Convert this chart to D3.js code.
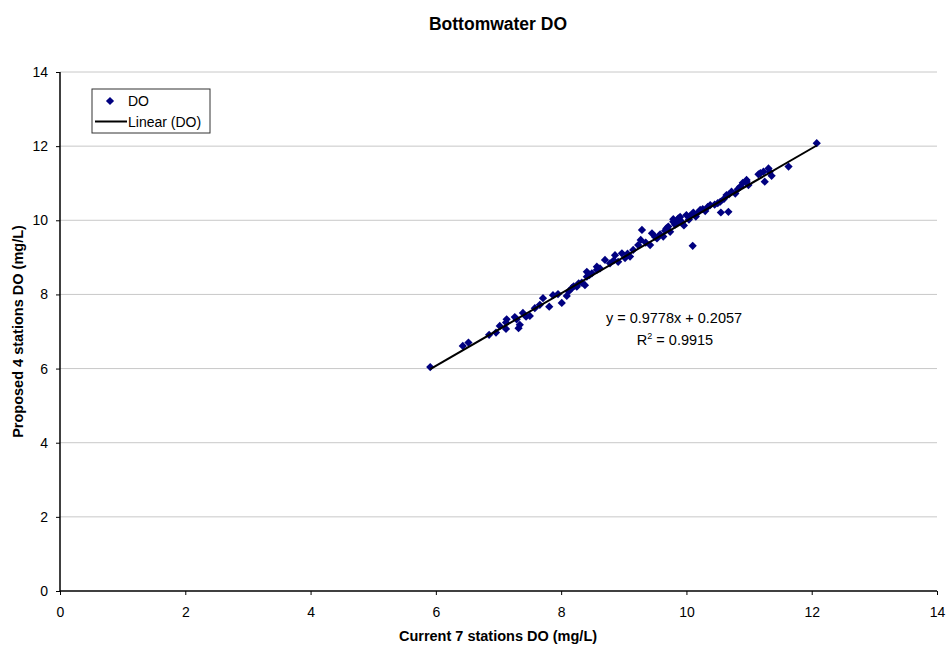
<!DOCTYPE html>
<html lang="en">
<head>
    <meta charset="UTF-8">
    <title>Bottomwater DO</title>
    <script src="https://d3js.org/d3.v7.min.js"></script>
    <style>
        body { margin: 0; background: #fff; }
        text { font-family: "Liberation Sans", Arial, sans-serif; }
    </style>
</head>
<body>
<script>
    // current 7 stations (x) vs proposed 4 stations (y), mg/L
    const currentDO = [
        5.91, 6.43, 6.52, 6.85, 6.96, 7.02, 7.12, 7.12, 7.13, 7.26,
        7.29, 7.32, 7.34, 7.39, 7.44, 7.50, 7.58, 7.66, 7.71, 7.81,
        7.87, 7.95, 8.01, 8.09, 8.12, 8.17, 8.20, 8.25, 8.28, 8.33,
        8.38, 8.41, 8.41, 8.45, 8.49, 8.57, 8.57, 8.62, 8.70, 8.78,
        8.84, 8.86, 8.91, 8.97, 9.02, 9.06, 9.10, 9.15, 9.23, 9.27,
        9.29, 9.35, 9.42, 9.45, 9.50, 9.53, 9.58, 9.63, 9.66, 9.68,
        9.71, 9.74, 9.79, 9.79, 9.82, 9.85, 9.87, 9.90, 9.93, 9.96,
        10.00, 10.04, 10.06, 10.10, 10.11, 10.15, 10.18, 10.22, 10.26, 10.30,
        10.34, 10.38, 10.45, 10.50, 10.54, 10.55, 10.60, 10.64, 10.67, 10.68,
        10.72, 10.78, 10.82, 10.86, 10.90, 10.96, 10.96, 10.99, 11.15, 11.18,
        11.23, 11.25, 11.31, 11.33, 11.36, 11.63, 12.08
    ];
    const proposedDO = [
        6.04, 6.61, 6.70, 6.91, 6.97, 7.15, 7.24, 7.07, 7.33, 7.39,
        7.33, 7.09, 7.18, 7.50, 7.40, 7.42, 7.63, 7.72, 7.90, 7.67,
        7.98, 8.01, 7.77, 7.96, 8.08, 8.17, 8.22, 8.21, 8.30, 8.32,
        8.25, 8.48, 8.61, 8.52, 8.57, 8.66, 8.75, 8.70, 8.93, 8.84,
        8.92, 9.06, 8.88, 9.11, 8.98, 9.10, 9.02, 9.20, 9.33, 9.47,
        9.74, 9.40, 9.33, 9.65, 9.55, 9.51, 9.62, 9.56, 9.72, 9.78,
        9.83, 9.69, 9.96, 10.03, 9.88, 9.92, 10.05, 10.09, 9.95, 9.86,
        10.14, 10.02, 10.12, 9.31, 10.21, 10.10, 10.20, 10.28, 10.30, 10.25,
        10.36, 10.41, 10.42, 10.46, 10.50, 10.21, 10.58, 10.68, 10.23, 10.70,
        10.77, 10.72, 10.84, 10.91, 11.01, 11.04, 11.09, 10.95, 11.24, 11.27,
        11.31, 11.04, 11.40, 11.31, 11.20, 11.45, 12.08
    ];
    // trendline as printed on the chart
    const trendSlope = 0.9778;
    const trendIntercept = 0.2057;
    const trendR2 = "0.9915";
    const axisTicks = [0, 2, 4, 6, 8, 10, 12, 14];

    const width = 948, height = 650;
    const plot = {left: 60, right: 937, top: 72, bottom: 591};

    const svg = d3.select("body").append("svg")
        .attr("width", width).attr("height", height);

    const x = d3.scaleLinear().domain([0, 14]).range([plot.left, plot.right]);
    const y = d3.scaleLinear().domain([0, 14]).range([plot.bottom, plot.top]);

    // gridlines
    svg.append("g").selectAll("line")
        .data(axisTicks.filter(d => d > 0))
        .join("line")
        .attr("x1", plot.left).attr("x2", plot.right)
        .attr("y1", d => y(d)).attr("y2", d => y(d))
        .attr("stroke", "#c8c8c8").attr("stroke-width", 1);

    // axes
    const xAxis = svg.append("g")
        .attr("transform", "translate(0," + plot.bottom + ")")
        .call(d3.axisBottom(x).tickValues(axisTicks).tickSize(4).tickPadding(12));
    const yAxis = svg.append("g")
        .attr("transform", "translate(" + plot.left + ",0)")
        .call(d3.axisLeft(y).tickValues(axisTicks).tickSize(4).tickPadding(8));
    [xAxis, yAxis].forEach(g => {
        g.select(".domain").attr("stroke", "#000").attr("stroke-width", 1.5);
        g.selectAll(".tick line").attr("stroke", "#000");
        g.selectAll(".tick text").attr("font-size", 14).attr("fill", "#000")
            .style("font-family", "'Liberation Sans', Arial, sans-serif");
    });
    yAxis.select(".domain").attr("d", "M0," + plot.bottom + "V" + plot.top);
    xAxis.select(".domain").attr("d", "M" + plot.left + ",0H" + plot.right);

    // points
    const pts = currentDO.map((d, i) => ({x: d, y: proposedDO[i]}));
    const diamond = d3.symbol().type(d3.symbolSquare).size(34);
    svg.append("g").selectAll("path")
        .data(pts)
        .join("path")
        .attr("d", diamond)
        .attr("transform", d => "translate(" + x(d.x) + "," + y(d.y) + ") rotate(45)")
        .attr("fill", "#000080");

    // linear trendline
    const xExtent = d3.extent(currentDO);
    svg.append("line")
        .attr("x1", x(xExtent[0])).attr("y1", y(trendSlope * xExtent[0] + trendIntercept))
        .attr("x2", x(xExtent[1])).attr("y2", y(trendSlope * xExtent[1] + trendIntercept))
        .attr("stroke", "#000").attr("stroke-width", 2);

    // equation labels
    svg.append("text").attr("x", 674).attr("y", 323)
        .attr("text-anchor", "middle").attr("font-size", 14.5)
        .text("y = " + trendSlope + "x + " + trendIntercept);
    const r2 = svg.append("text").attr("x", 675).attr("y", 345)
        .attr("text-anchor", "middle").attr("font-size", 14.5);
    r2.append("tspan").text("R");
    r2.append("tspan").attr("dy", -6).attr("font-size", 9).text("2");
    r2.append("tspan").attr("dy", 6).text(" = " + trendR2);

    // titles
    svg.append("text").attr("x", 498).attr("y", 30)
        .attr("text-anchor", "middle").attr("font-size", 17.5).attr("font-weight", "bold")
        .text("Bottomwater DO");
    svg.append("text").attr("x", 498).attr("y", 641)
        .attr("text-anchor", "middle").attr("font-size", 14.5).attr("font-weight", "bold")
        .text("Current 7 stations DO (mg/L)");
    svg.append("text")
        .attr("transform", "translate(23," + ((plot.top + plot.bottom) / 2) + ") rotate(-90)")
        .attr("text-anchor", "middle").attr("font-size", 14.5).attr("font-weight", "bold")
        .text("Proposed 4 stations DO (mg/L)");

    // legend
    const legend = svg.append("g").attr("transform", "translate(92,89)");
    legend.append("rect").attr("width", 118).attr("height", 44)
        .attr("fill", "#fff").attr("stroke", "#333").attr("stroke-width", 1);
    legend.append("path").attr("d", diamond)
        .attr("transform", "translate(18,12) rotate(45)").attr("fill", "#000080");
    legend.append("text").attr("x", 36).attr("y", 17).attr("font-size", 14).text("DO");
    legend.append("line").attr("x1", 3).attr("x2", 35).attr("y1", 32.5).attr("y2", 32.5)
        .attr("stroke", "#000").attr("stroke-width", 2);
    legend.append("text").attr("x", 36).attr("y", 38).attr("font-size", 14).text("Linear (DO)");
</script>
</body>
</html>
